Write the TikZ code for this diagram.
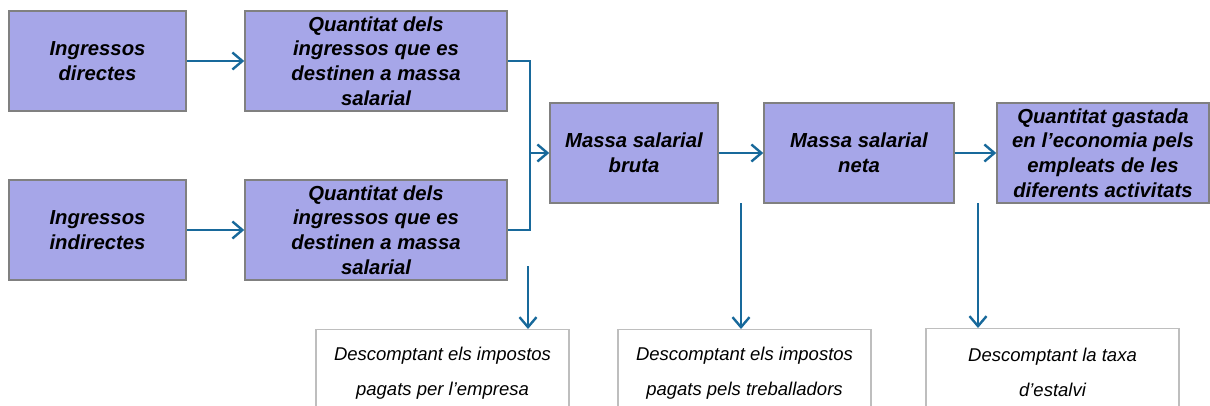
\documentclass[tikz,border=0pt]{standalone}
\usepackage{fontspec}
\setmainfont{Liberation Sans}
\usetikzlibrary{arrows.meta}
\definecolor{boxfill}{RGB}{166,166,232}
\definecolor{boxline}{RGB}{128,128,128}
\definecolor{wline}{RGB}{190,190,190}
\definecolor{arrcol}{RGB}{24,105,155}
\tikzset{
  mainbox/.style={draw=boxline, fill=boxfill, line width=1.5pt, inner sep=0pt,
    minimum height=100pt, align=center,
    font=\fontsize{20.3}{24.8}\selectfont\bfseries\itshape},
  notebox/.style={draw=wline, fill=white, line width=1.3pt, inner sep=0pt,
    minimum width=253pt, minimum height=88pt, anchor=north, align=center,
    font=\fontsize{18.5}{35}\selectfont\itshape},
  link/.style={draw=arrcol, line width=2.4pt},
  arr/.style={link, -{Straight Barb[length=10pt,width=17pt,line width=2.4pt]}}
}
\begin{document}
\begin{tikzpicture}[x=1pt,y=-1pt]
\useasboundingbox (0,0) rectangle (1210,405);
\fill[white] (0,0) rectangle (1210,405);
\clip (0,0) rectangle (1210,405);

\node[mainbox, minimum width=177pt] (A1) at (97.5,61) {Ingressos\\directes};
\node[mainbox, minimum width=262pt] (A2) at (376,61) {Quantitat dels\\ingressos que es\\destinen a massa\\salarial};
\node[mainbox, minimum width=177pt] (B1) at (97.5,230) {Ingressos\\indirectes};
\node[mainbox, minimum width=262pt] (B2) at (376,230) {Quantitat dels\\ingressos que es\\destinen a massa\\salarial};
\node[mainbox, minimum width=168pt] (Bruta) at (634,153) {Massa salarial\\bruta};
\node[mainbox, minimum width=190pt] (Neta) at (859,153) {Massa salarial\\neta};
\node[mainbox, minimum width=212pt] (Gast) at (1103,153) {Quantitat gastada\\en l’economia pels\\empleats de les\\diferents activitats};

\node[notebox] (W1) at (442.5,329) {Descomptant els impostos\\pagats per l’empresa};
\node[notebox] (W2) at (744.5,329) {Descomptant els impostos\\pagats pels treballadors};
\node[notebox] (W3) at (1052.5,328) {Descomptant la taxa\\d’estalvi};

\coordinate (J) at (530,153);
\coordinate (D1) at (528,266);
\coordinate (D2) at (741,203);
\coordinate (D3) at (978,203);

\draw[arr] (A1.east) -- (A2.west);
\draw[arr] (B1.east) -- (B2.west);
\draw[link] (A2.east) -| (J) |- (B2.east);
\draw[arr] (J) -- (Bruta.west);
\draw[arr] (Bruta.east) -- (Neta.west);
\draw[arr] (Neta.east) -- (Gast.west);
\draw[arr] (D1) -- (D1 |- W1.north);
\draw[arr] (D2) -- (D2 |- W2.north);
\draw[arr] (D3) -- (D3 |- W3.north);
\end{tikzpicture}
\end{document}
